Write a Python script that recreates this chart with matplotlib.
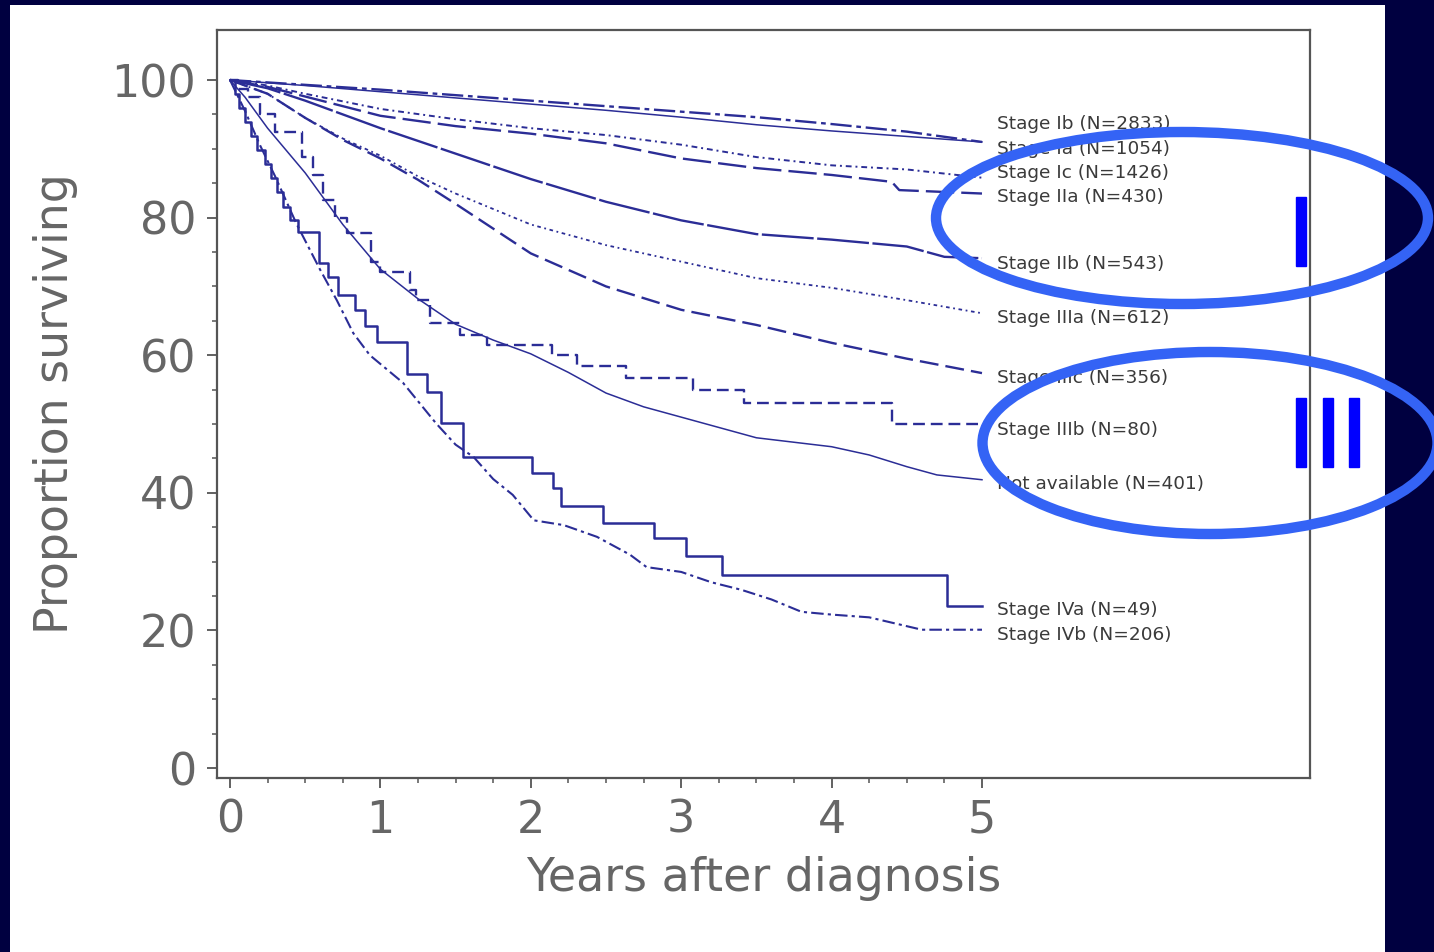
import matplotlib
matplotlib.use("Agg")
import matplotlib.pyplot as plt
from matplotlib.patches import Ellipse, Rectangle

# survival curves (years, % surviving)
t_ib = [0, 0.5, 1, 1.5, 2, 2.5, 3, 3.5, 4, 4.5, 5]
s_ib = [100, 99.3, 98.6, 97.8, 97.0, 96.2, 95.4, 94.6, 93.6, 92.5, 91.0]

t_ia = [0, 0.5, 1, 1.5, 2, 2.5, 3, 3.5, 4, 4.5, 5]
s_ia = [100, 99.2, 98.3, 97.4, 96.5, 95.6, 94.6, 93.5, 92.6, 91.8, 91.0]

t_ic = [0, 0.25, 0.5, 1, 1.5, 2, 2.5, 3, 3.5, 4, 4.5, 5]
s_ic = [100, 99.2, 98.0, 95.8, 94.3, 93.0, 92.0, 90.6, 88.8, 87.6, 87.0, 85.8]

t_iia = [0, 0.25, 0.5, 1, 1.5, 2, 2.5, 3, 3.5, 4, 4.4, 4.45, 5]
s_iia = [100, 99.0, 97.6, 94.8, 93.3, 92.2, 90.8, 88.6, 87.2, 86.2, 85.2, 84.0, 83.5]

t_iib = [0, 0.25, 0.5, 0.75, 1, 1.5, 2, 2.5, 3, 3.5, 4, 4.5, 4.75, 5]
s_iib = [100, 98.8, 97.0, 95.0, 93.0, 89.3, 85.6, 82.3, 79.6, 77.6, 76.8, 75.8, 74.3, 74.1]

t_iiia = [0, 0.25, 0.5, 0.75, 1, 1.25, 1.5, 2, 2.5, 3, 3.5, 4, 4.5, 5]
s_iiia = [100, 98.0, 94.5, 91.5, 89.0, 86.0, 83.5, 79.0, 76.0, 73.6, 71.2, 69.8, 68.0, 66.1]

t_iiic = [0, 0.25, 0.5, 0.75, 1, 1.25, 1.5, 2, 2.5, 3, 3.5, 4, 4.5, 5]
s_iiic = [100, 98.0, 94.5, 91.3, 88.6, 85.5, 82.0, 74.8, 70.0, 66.6, 64.4, 61.8, 59.5, 57.4]

t_iiib = [0, 0.05, 0.12, 0.2, 0.3, 0.48, 0.55, 0.62, 0.7, 0.78, 0.94, 1.0, 1.2,
          1.24, 1.33, 1.53, 1.71, 2.14, 2.31, 2.63, 3.08, 3.42, 4.40, 5]
s_iiib = [100, 98.75, 97.5, 95.0, 92.5, 88.8, 86.2, 82.5, 80.0, 77.8, 73.6, 72.1, 69.5,
          68.0, 64.7, 62.9, 61.5, 60.0, 58.4, 56.7, 54.9, 53.0, 50.0, 50.0]

t_na = [0, 0.1, 0.25, 0.5, 0.75, 1, 1.25, 1.5, 1.75, 2, 2.25, 2.5, 2.75, 3, 3.5, 4,
        4.25, 4.5, 4.7, 5]
s_na = [100, 97.5, 93.0, 86.5, 79.0, 72.5, 68.2, 64.5, 62.2, 60.2, 57.5, 54.5, 52.5,
        51.0, 48.0, 46.7, 45.5, 43.8, 42.6, 41.9]

t_iva = [0, 0.03, 0.06, 0.10, 0.14, 0.18, 0.23, 0.27, 0.31, 0.35, 0.40, 0.45, 0.59,
         0.65, 0.72, 0.83, 0.90, 0.98, 1.18, 1.31, 1.40, 1.55, 2.01, 2.15, 2.20, 2.48,
         2.82, 3.03, 3.27, 4.77, 5]
s_iva = [100, 98.0, 95.9, 93.9, 91.8, 89.8, 87.8, 85.7, 83.7, 81.6, 79.6, 77.9, 73.4,
         71.4, 68.8, 66.6, 64.2, 61.9, 57.3, 54.7, 50.1, 45.2, 42.9, 40.7, 38.1, 35.6,
         33.4, 30.8, 28.1, 23.5, 23.5]

t_ivb = [0, 0.1, 0.2, 0.3, 0.44, 0.6, 0.71, 0.82, 0.93, 1.15, 1.37, 1.5, 1.62, 1.75,
         1.88, 2.02, 2.22, 2.44, 2.66, 2.77, 3.0, 3.2, 3.4, 3.6, 3.8, 4.0, 4.25, 4.6, 5]
s_ivb = [100, 95.5, 90.5, 86.0, 79.2, 72.4, 68.0, 63.2, 60.0, 56.0, 50.1, 47.0, 45.2,
         42.0, 39.7, 36.0, 35.3, 33.6, 31.0, 29.2, 28.5, 27.0, 25.9, 24.5, 22.7, 22.3,
         21.9, 20.1, 20.1]

labels = ["Stage Ib (N=2833)", "Stage Ia (N=1054)", "Stage Ic (N=1426)",
          "Stage IIa (N=430)", "Stage IIb (N=543)", "Stage IIIa (N=612)",
          "Stage IIIc (N=356)", "Stage IIIb (N=80)", "Not available (N=401)",
          "Stage IVa (N=49)", "Stage IVb (N=206)"]

# where the label text sits (y in data units)
label_y = [93.6, 90.0, 86.5, 83.0, 73.3, 65.4, 56.7, 49.1, 41.3, 23.0, 19.3]

LINE = "#2b2d96"
NAVY = "#000040"
RING = "#3463f5"
GREY = "#666666"

fig = plt.figure(figsize=(14.34, 9.52), dpi=100, facecolor=NAVY)

# white slide panel behind everything
bg = fig.add_axes([10 / 1434, 0, 1375 / 1434, 947 / 952], zorder=-1)
bg.set_facecolor("white")
bg.set_xticks([])
bg.set_yticks([])
for sp in bg.spines.values():
    sp.set_visible(False)

ax = fig.add_axes([217 / 1434, 1 - 778 / 952, 1093 / 1434, 748 / 952], zorder=1)
ax.set_facecolor("white")

curves = [
    (t_ib, s_ib, (0, (9, 2, 2, 2)), 1.7, "default"),
    (t_ia, s_ia, "-", 1.1, "default"),
    (t_ic, s_ic, (0, (3, 2, 1, 2)), 1.4, "default"),
    (t_iia, s_iia, (0, (12, 3)), 1.7, "default"),
    (t_iib, s_iib, (0, (22, 1.5)), 1.7, "default"),
    (t_iiia, s_iiia, (0, (2, 2, 1, 2)), 1.3, "default"),
    (t_iiic, s_iiic, (0, (8, 3)), 1.7, "default"),
    (t_iiib, s_iiib, (0, (5, 2.5)), 1.7, "steps-post"),
    (t_na, s_na, "-", 1.1, "default"),
    (t_iva, s_iva, "-", 1.8, "steps-post"),
    (t_ivb, s_ivb, (0, (6, 2, 1.5, 2)), 1.5, "default"),
]
for (t, s, ls, lw, ds), lab, ly in zip(curves, labels, label_y):
    ax.plot(t, s, color=LINE, linestyle=ls, linewidth=lw, drawstyle=ds)
    ax.text(5.10, ly, lab, fontsize=13.3, color="#3a3a3a", va="center",
            family="DejaVu Sans", clip_on=False)

ax.set_xlim(-0.0864, 7.181)
ax.set_ylim(-1.453, 107.27)
ax.set_xticks([0, 1, 2, 3, 4, 5])
ax.set_xticks([i * 0.25 for i in range(21)], minor=True)
ax.set_yticks([0, 20, 40, 60, 80, 100])
ax.set_yticks([i * 5 for i in range(21)], minor=True)
ax.tick_params(which="major", direction="out", length=7, width=1.3,
               color="#555555", labelsize=32, labelcolor=GREY, pad=8)
ax.tick_params(which="minor", direction="out", length=3.5, width=1.1, color="#555555")
for sp in ax.spines.values():
    sp.set_color("#555555")
    sp.set_linewidth(1.6)

ax.set_xlabel("Years after diagnosis", fontsize=33, color=GREY, labelpad=10)
ax.set_ylabel("Proportion surviving", fontsize=33, color=GREY, labelpad=24)

# overlay in pixel units for the hand-drawn marks
ov = fig.add_axes([0, 0, 1, 1], facecolor="none", zorder=5)
ov.set_xlim(0, 1434)
ov.set_ylim(952, 0)
ov.axis("off")
ov.add_patch(Ellipse((1182, 218), 492, 172, fill=False, edgecolor=RING, linewidth=7.5))
ov.add_patch(Ellipse((1210, 443), 455, 182, fill=False, edgecolor=RING, linewidth=7.5))
ov.add_patch(Rectangle((1296, 197), 10, 69, color="#0000ff"))
for bx in (1296, 1323, 1349):
    ov.add_patch(Rectangle((bx, 398), 10, 69, color="#0000ff"))

fig.savefig("out.png", dpi=100, facecolor=NAVY)
